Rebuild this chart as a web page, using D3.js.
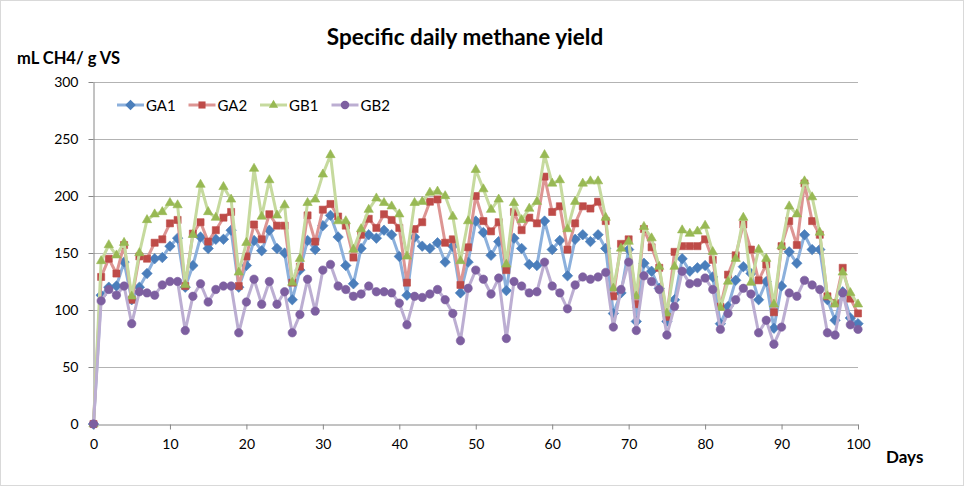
<!DOCTYPE html>
<html>
<head>
<meta charset="utf-8">
<script src="https://cdn.jsdelivr.net/npm/d3@7"></script>
<style>
  body { margin: 0; background: #fff; }
  text { font-family: Lato, "Open Sans", sans-serif; }
</style>
</head>
<body>
<div id="viz"></div>
<script>
'use strict';

const width = 964;
const height = 486;

const days = d3.range(0, 101);

const ga1 = [0, 113, 120, 121, 142, 109, 120, 132, 145, 146, 156, 163, 120, 139, 164, 154, 162, 162, 170, 120,
    139, 161, 152, 170, 154, 150, 109, 135, 161, 153, 174, 183, 164, 139, 123, 154, 166, 163, 170, 166,
    147, 113, 164, 156, 154, 159, 142, 156, 115, 142, 178, 168, 148, 160, 117, 163, 154, 140, 139, 178,
    153, 161, 130, 162, 166, 160, 166, 154, 97, 115, 153, 90, 141, 134, 119, 90, 109, 145, 134, 137,
    139, 129, 88, 103, 126, 138, 132, 109, 125, 84, 121, 151, 141, 166, 153, 153, 109, 91, 116, 93, 88];

const ga2 = [0, 129, 145, 132, 157, 109, 147, 145, 159, 162, 176, 179, 121, 167, 177, 160, 170, 181, 186, 121,
    147, 175, 162, 184, 174, 174, 124, 138, 183, 160, 188, 193, 182, 174, 146, 166, 180, 172, 184, 179,
    172, 124, 171, 177, 195, 197, 159, 162, 122, 155, 200, 178, 169, 177, 135, 186, 170, 181, 176, 217,
    186, 191, 153, 176, 191, 189, 195, 178, 112, 158, 162, 105, 171, 155, 137, 94, 151, 156, 156, 156,
    162, 144, 103, 131, 148, 175, 153, 126, 140, 98, 156, 178, 157, 211, 178, 166, 112, 106, 137, 110, 97];

const gb1 = [0, 143, 157, 148, 159, 112, 150, 179, 184, 186, 194, 192, 122, 166, 210, 186, 181, 208, 197, 133,
    159, 224, 182, 214, 183, 192, 124, 145, 194, 197, 219, 236, 178, 178, 153, 171, 188, 198, 194, 191,
    184, 147, 194, 195, 203, 204, 200, 182, 143, 178, 223, 206, 188, 197, 140, 194, 179, 189, 195, 236,
    211, 214, 171, 195, 211, 213, 213, 181, 119, 154, 160, 112, 173, 163, 138, 97, 138, 170, 167, 169,
    174, 151, 102, 125, 145, 181, 124, 153, 145, 105, 156, 191, 184, 213, 199, 168, 112, 105, 133, 115, 105];

const gb2 = [0, 108, 118, 113, 121, 88, 116, 115, 113, 122, 125, 125, 82, 112, 123, 107, 118, 121, 121, 80,
    107, 127, 105, 125, 105, 116, 80, 96, 127, 99, 135, 140, 121, 118, 112, 114, 121, 116, 116, 115,
    106, 87, 112, 111, 114, 118, 109, 97, 73, 119, 135, 127, 114, 128, 75, 125, 121, 115, 116, 142,
    121, 115, 101, 122, 129, 127, 129, 133, 85, 118, 142, 82, 130, 125, 118, 78, 103, 134, 123, 124,
    128, 118, 83, 97, 109, 119, 114, 80, 91, 70, 85, 115, 112, 126, 122, 118, 80, 78, 115, 87, 83];

const seriesNames = ["GA1", "GA2", "GB1", "GB2"];
const xTicks = [0, 10, 20, 30, 40, 50, 60, 70, 80, 90, 100];
const yTicks = [0, 50, 100, 150, 200, 250, 300];

const series = [
    {name: "GA1", values: ga1, marker: "#4a7ebb", line: "#8cb0dc", symbol: d3.symbolDiamond2, size: 70},
    {name: "GA2", values: ga2, marker: "#be4b48", line: "#dd9593", symbol: d3.symbolSquare2, size: 64},
    {name: "GB1", values: gb1, marker: "#98b954", line: "#c6da9e", symbol: d3.symbolTriangle2, size: 62},
    {name: "GB2", values: gb2, marker: "#7d5fa0", line: "#bcaed2", symbol: d3.symbolCircle, size: 56}
];

const margin = {top: 82, right: 106, bottom: 62, left: 93.5};

const svg = d3.select("#viz")
    .append("svg")
    .attr("width", width)
    .attr("height", height);

svg.append("rect")
    .attr("x", 0.5).attr("y", 0.5)
    .attr("width", width - 1).attr("height", height - 1)
    .attr("fill", "#fff")
    .attr("stroke", "#d9d9d9");

const x = d3.scaleLinear()
    .domain([0, 100])
    .range([margin.left, width - margin.right]);

const y = d3.scaleLinear()
    .domain([0, 300])
    .range([height - margin.bottom, margin.top]);

// gridlines
svg.append("g")
    .selectAll("line")
    .data(yTicks.filter(d => d > 0))
    .enter()
    .append("line")
    .attr("x1", x(0)).attr("x2", x(100))
    .attr("y1", d => Math.round(y(d)) + 0.5)
    .attr("y2", d => Math.round(y(d)) + 0.5)
    .attr("stroke", "#b3b3b3");

const xAxis = svg.append("g")
    .attr("transform", `translate(0,${Math.round(y(0)) + 0.5})`)
    .call(d3.axisBottom(x).tickValues(xTicks).tickSize(5).tickPadding(10).tickSizeOuter(0));

const yAxis = svg.append("g")
    .attr("transform", `translate(${x(0)},0)`)
    .call(d3.axisLeft(y).tickValues(yTicks).tickSize(5).tickPadding(10).tickSizeOuter(0));

[xAxis, yAxis].forEach(ax => {
    ax.select(".domain").attr("stroke", "#868686");
    ax.selectAll(".tick line").attr("stroke", "#868686");
    ax.selectAll(".tick text")
        .attr("fill", "#000")
        .style("font-size", "14px")
        .style("font-family", "Lato, sans-serif");
});

const line = d3.line()
    .x((d, i) => x(days[i]))
    .y(d => y(d));

series.forEach(s => {
    const g = svg.append("g");
    g.append("path")
        .datum(s.values)
        .attr("fill", "none")
        .attr("stroke", s.line)
        .attr("stroke-width", 3)
        .attr("stroke-linejoin", "round")
        .attr("d", line);
    g.selectAll("path.pt")
        .data(s.values)
        .enter()
        .append("path")
        .attr("class", "pt")
        .attr("transform", (d, i) => `translate(${x(days[i])},${y(d)})`)
        .attr("d", d3.symbol().type(s.symbol).size(s.size))
        .attr("fill", s.marker)
        .attr("stroke", s.marker)
        .attr("stroke-width", 0.6);
});

// legend
const legend = svg.append("g")
    .attr("transform", "translate(117,105)");

const legendItem = legend.selectAll("g")
    .data(series)
    .enter()
    .append("g")
    .attr("transform", (d, i) => `translate(${i * 71.5},0)`);

legendItem.append("line")
    .attr("x1", 0).attr("x2", 27)
    .attr("stroke", d => d.line)
    .attr("stroke-width", 3);

legendItem.append("path")
    .attr("transform", "translate(13.5,0)")
    .attr("d", d => d3.symbol().type(d.symbol).size(d.size)())
    .attr("fill", d => d.marker);

legendItem.append("text")
    .attr("x", 29)
    .attr("y", 5.5)
    .style("font-size", "15px")
    .text((d, i) => seriesNames[i]);

svg.append("text")
    .attr("x", 465)
    .attr("y", 45)
    .attr("text-anchor", "middle")
    .style("font-size", "22.5px")
    .style("font-weight", "bold")
    .text("Specific daily methane yield");

svg.append("text")
    .attr("x", 17)
    .attr("y", 64)
    .style("font-size", "16.5px")
    .style("font-weight", "bold")
    .text("mL CH4/ g VS");

svg.append("text")
    .attr("x", 886)
    .attr("y", 463)
    .style("font-size", "17px")
    .style("font-weight", "bold")
    .text("Days");
</script>
</body>
</html>
